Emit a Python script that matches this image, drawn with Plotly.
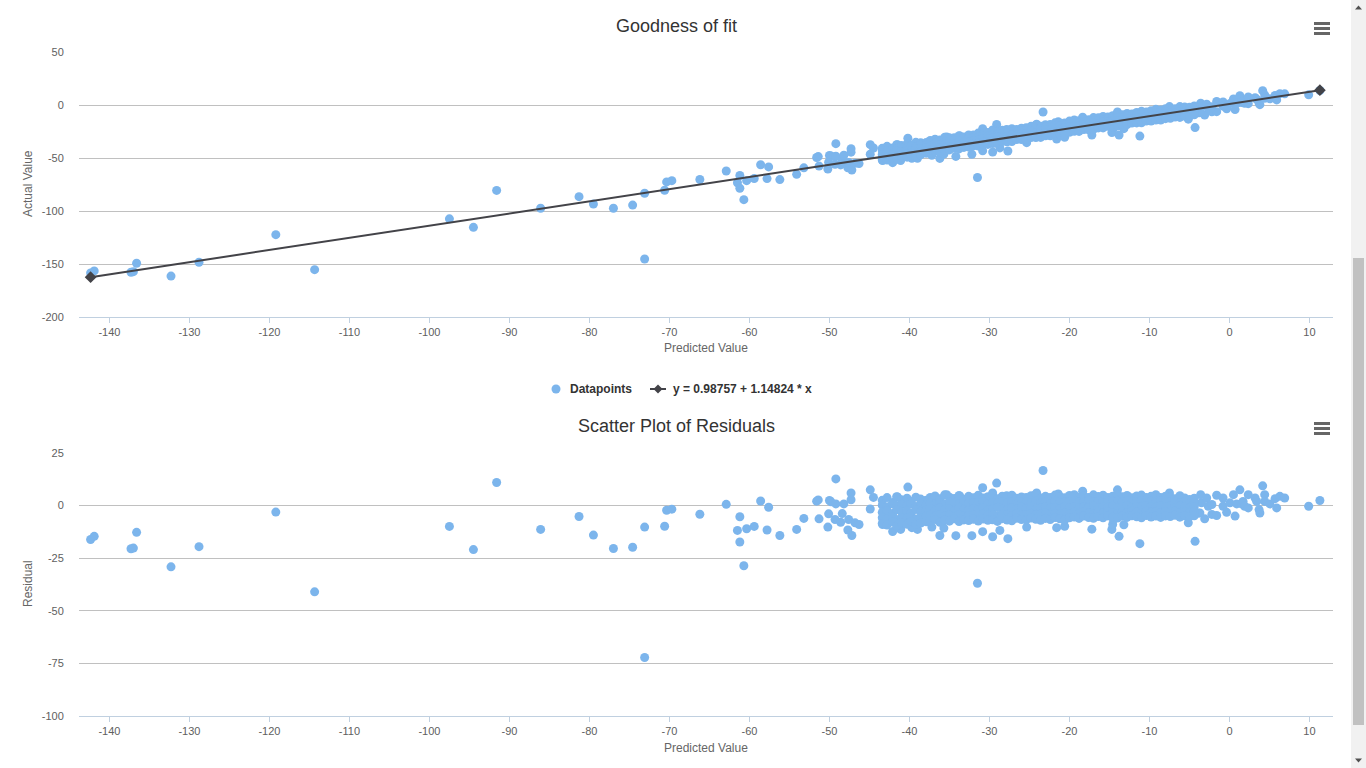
import plotly.graph_objects as go

# scattered points: predicted value and residual (actual - predicted)
pred_sparse = [
    -142.35, -141.9, -137.3, -137.0, -136.6, -132.3, -128.8, -119.2, -114.35,
    -97.5, -94.5, -91.6, -86.1, -81.3, -79.5, -77.0, -74.6, -73.1, -73.1, -70.6, -70.35, -69.7, -66.2, -62.9,
    -61.2, -61.5, -61.2, -60.7, -60.35, -59.4, -58.6, -57.6, -57.8, -56.2, -54.1, -53.2, -51.4, -51.6, -51.3,
    -50.2, -50.0, -49.8, -50.1, -49.2, -49.2, -49.3, -48.6, -48.4, -48.2, -47.3, -47.3, -47.7, -47.2, -47.6,
    -46.8, -46.3, -44.9, -44.5, -44.9, -43.35, -42.1, -41.1, -40.2, -41.5, -39.7, -39.0,
    -23.3, -30.85, -29.1, -29.6, -37.2, -36.2, -35.7, -34.2, -32.2, -30.85, -29.6, -28.7, -27.7, -25.35,
    -31.5, -21.6, -20.6, -35.35, -33.7, -27.85, -24.1, -21.4,
    -18.35, -14.0, -7.5, -17.2, -14.7, -14.6, -14.5, -13.8, -13.2, -11.2, -5.15, -4.3, -3.1, -3.9, -3.5, -3.6,
    -2.85, -2.65, -3.7, -2.2, -1.6, -2.2, -1.6, -0.8, -0.8, -0.35, 0.06, 0.5, 0.7, 1.3, 0.9, 1.5, 1.7, 1.9,
    2.35, 2.35, 3.2, 3.4, 3.7, 3.8, 4.15, 4.4, 4.4, 5.05, 5.7, 5.9, 6.3, 6.9, 9.9, 11.3,
]
resid_sparse = [
    -16.1, -14.6, -20.5, -20.2, -12.7, -29.1, -19.5, -3.1, -41.0,
    -9.9, -20.9, 11.0, -11.3, -5.2, -14.0, -20.4, -19.8, -10.2, -72.2, -9.8, -2.2, -1.7, -4.1, 0.6,
    -5.3, -11.8, -17.3, -28.6, -11.0, -9.9, 2.2, -0.8, -11.6, -14.2, -11.3, -6.1, 2.7, 2.1, -6.3,
    -10.2, 2.4, 1.8, -3.9, 12.7, 0.8, -6.6, -7.9, -3.8, 0.8, 6.0, 2.8, -11.6, -14.2, -6.6,
    -8.2, -9.0, 7.5, 3.9, -1.6, -9.0, -12.3, -11.3, 8.8, 4.1, -10.5, -11.3,
    16.7, 8.5, 10.7, 6.0, -10.2, -14.2, -10.7, -14.3, -14.3, -12.4, -14.8, -11.8, -15.7, -10.2,
    -36.9, -10.5, -9.8, 5.2, 4.4, 4.7, 6.0, 5.5,
    6.8, 7.5, 6.0, -11.2, -11.3, -9.0, -6.6, -14.6, -9.1, -18.1, -8.2, -17.0, -6.3, -3.5, 1.3, 5.2,
    3.6, -0.3, -3.5, -4.2, -4.7, 0.5, 4.9, 3.6, -0.3, -3.2, 1.3, 5.2, -5.0, 7.5, 0.8, 0.8, 2.0, -0.3,
    -1.1, 5.2, 3.6, 2.0, -1.9, -3.5, 9.4, 5.2, 2.0, 0.8, 3.3, -1.1, 4.4, 3.6, -0.3, 2.4,
]

# dense band: predicted value columns and residual rows read across the band
band_x = [
    -43.4, -42.8, -42.1, -41.6, -41.0, -40.3, -39.8, -39.2, -38.6, -37.9,
    -37.4, -36.8, -36.2, -35.6, -35.0, -34.4, -33.8, -33.2, -32.6, -32.0,
    -31.4, -30.8, -30.2, -29.6, -29.0, -28.4, -27.8, -27.2, -26.6, -26.0,
    -25.4, -24.8, -24.2, -23.6, -23.0, -22.4, -21.8, -21.2, -20.6, -20.0,
    -19.4, -18.8, -18.2, -17.6, -17.0, -16.4, -15.8, -15.2, -14.6, -14.0,
    -13.4, -12.8, -12.2, -11.6, -11.0, -10.4, -9.8, -9.2, -8.6, -8.0,
    -7.4, -6.8, -6.2, -5.6, -5.0, -4.4,
]
band_upper = [
    2.5, 3.8, 1.5, 4.2, 2.8, 3.5, 1.9, 4.0, 3.1, 2.6,
    3.9, 4.6, 3.2, 5.1, 4.0, 3.4, 4.8, 3.0, 4.4, 3.7,
    4.9, 3.6, 4.2, 5.0, 3.3, 4.5, 3.8, 4.9, 3.5, 4.1,
    3.9, 4.7, 5.3, 3.6, 4.4, 3.9, 5.0, 4.2, 3.7, 4.8,
    5.2, 4.0, 4.6, 3.8, 5.1, 4.3, 4.9, 3.9, 4.5, 5.3,
    4.2, 4.8, 3.7, 4.6, 5.0, 3.9, 4.4, 5.2, 3.8, 4.5,
    4.0, 3.2, 4.7, 3.6, 2.9, 3.5,
]
band_high = [
    0.2, -0.5, 0.8, -0.2, 0.5, 0.0, 0.9, -0.4, 0.6, 0.3,
    1.2, 0.6, 1.5, 0.9, 1.8, 1.1, 0.7, 1.6, 1.0, 1.4,
    1.3, 1.9, 0.8, 1.5, 1.2, 2.0, 1.1, 1.7, 0.9, 1.6,
    1.8, 1.2, 2.1, 1.4, 1.9, 1.0, 2.2, 1.5, 1.7, 2.0,
    2.3, 1.6, 2.0, 2.5, 1.8, 2.2, 1.5, 2.4, 1.9, 2.1,
    1.7, 2.3, 1.6, 2.0, 2.4, 1.8, 2.1, 1.5, 2.2, 1.9,
    1.6, 2.0, 1.3, 1.8, 0.9, 1.4,
]
band_mid = [
    -3.2, -2.5, -3.8, -2.0, -3.0, -2.6, -3.5, -1.8, -2.9, -2.2,
    -1.5, -2.4, -1.2, -2.0, -1.7, -2.6, -1.1, -1.9, -2.3, -1.4,
    -1.8, -1.0, -2.2, -1.5, -0.9, -1.7, -2.0, -1.2, -1.6, -0.8,
    -1.4, -0.7, -1.9, -1.1, -0.5, -1.3, -0.9, -1.6, -0.6, -1.0,
    -0.4, -1.2, -0.6, -0.9, -0.2, -1.0, -0.5, -0.8, -0.3, -1.1,
    -0.6, -0.1, -0.9, -0.4, -0.7, 0.0, -0.5, -0.8, -0.2, -0.6,
    -0.3, -0.9, -0.1, -0.6, -1.2, -0.4,
]
band_low = [
    -5.8, -6.2, -5.4, -6.6, -5.9, -6.0, -5.2, -6.4, -5.6, -5.0,
    -4.6, -5.1, -4.3, -4.9, -4.5, -5.3, -4.2, -4.8, -4.7, -4.4,
    -4.8, -4.1, -4.6, -4.3, -4.9, -4.0, -4.5, -4.7, -3.9, -4.4,
    -4.2, -3.7, -4.5, -4.0, -3.6, -4.3, -3.8, -4.1, -3.5, -3.9,
    -3.2, -3.8, -2.9, -3.5, -3.9, -3.0, -3.6, -2.8, -3.3, -3.7,
    -3.0, -3.4, -2.7, -3.1, -3.6, -2.6, -3.2, -2.9, -3.5, -2.8,
    -3.1, -2.7, -3.4, -2.9, -3.3, -2.6,
]
band_lower = [
    -8.5, -9.2, -7.8, -9.6, -8.1, -8.9, -7.5, -9.0, -8.3, -7.7,
    -7.2, -6.6, -7.9, -6.9, -7.4, -6.3, -7.6, -6.8, -7.1, -6.5,
    -7.3, -6.4, -7.0, -6.7, -7.5, -6.2, -6.9, -7.2, -6.0, -6.6,
    -6.8, -5.9, -6.5, -7.0, -6.1, -6.6, -5.7, -6.3, -6.9, -5.8,
    -5.4, -6.1, -5.0, -5.7, -6.0, -5.2, -5.8, -4.9, -5.5, -5.9,
    -5.1, -5.6, -4.8, -5.3, -5.8, -4.7, -5.4, -5.0, -5.6, -4.9,
    -5.2, -4.6, -5.5, -4.9, -5.3, -4.8,
]

# regression line end points: y = 0.98757 + 1.14824 * x
fit_x = [-142.35, 11.3]
fit_y = [-162.46, 13.96]
fit_label = "y = 0.98757 + 1.14824 * x"

# axis ticks (labels use a plain hyphen like the original)
x_ticks = [-140, -130, -120, -110, -100, -90, -80, -70, -60, -50, -40, -30, -20, -10, 0, 10]
y_ticks_fit = [50, 0, -50, -100, -150, -200]
y_ticks_resid = [25, 0, -25, -50, -75, -100]

predicted = pred_sparse + band_x * 5
residual = resid_sparse + band_upper + band_high + band_mid + band_low + band_lower
actual = [p + r for p, r in zip(predicted, residual)]

W, H = 1366, 768
FONT = "Liberation Sans, Arial, Helvetica, sans-serif"
POINT = "#7cb5ec"
LINE = "#434348"


def px(x):
    return x / W


def py(y):
    return 1 - y / H


def labels(vals):
    return [str(v) for v in vals]


fig = go.Figure()
fig.add_trace(go.Scatter(x=predicted, y=actual, mode="markers", name="Datapoints",
                         marker=dict(color=POINT, size=9, line_width=0),
                         xaxis="x", yaxis="y"))
fig.add_trace(go.Scatter(x=fit_x, y=fit_y, mode="lines+markers", name=fit_label,
                         line=dict(color=LINE, width=2),
                         marker=dict(symbol="diamond", size=9, color=LINE),
                         xaxis="x", yaxis="y"))
fig.add_trace(go.Scatter(x=predicted, y=residual, mode="markers", name="Residuals",
                         marker=dict(color=POINT, size=9, line_width=0),
                         xaxis="x2", yaxis="y2"))

xcommon = dict(range=[-143.8, 12.94], tickvals=x_ticks, ticktext=labels(x_ticks),
               showgrid=False, zeroline=False,
               showline=True, linecolor="#C0D0E0", linewidth=1, automargin=False,
               ticks="outside", ticklen=5, tickcolor="#C0D0E0",
               tickfont=dict(family=FONT, size=11, color="#606060"))
ycommon = dict(showgrid=True, gridcolor="#C0C0C0", gridwidth=1, zeroline=False, showline=False,
               automargin=False, ticks="outside", ticklen=12, tickcolor="rgba(0,0,0,0)",
               tickfont=dict(family=FONT, size=11, color="#606060"))

plot_x = [px(79), px(1333)]
fig.update_layout(
    width=W, height=H, autosize=False,
    margin=dict(l=0, r=0, t=0, b=0, pad=0, autoexpand=False),
    paper_bgcolor="white", plot_bgcolor="white",
    showlegend=False,
    hovermode="closest",
    xaxis=dict(domain=plot_x, anchor="y", **xcommon),
    yaxis=dict(domain=[py(317), py(52)], range=[-200, 50], anchor="x",
               tickvals=y_ticks_fit, ticktext=labels(y_ticks_fit), **ycommon),
    xaxis2=dict(domain=plot_x, anchor="y2", **xcommon),
    yaxis2=dict(domain=[py(716), py(453)], range=[-100, 25], anchor="x2",
                tickvals=y_ticks_resid, ticktext=labels(y_ticks_resid), **ycommon),
)

notes = [
    ("Goodness of fit", 676, 26, 18, "#333333", 0, "center"),
    ("Scatter Plot of Residuals", 676, 426, 18, "#333333", 0, "center"),
    ("Predicted Value", 706, 348, 12, "#666666", 0, "center"),
    ("Predicted Value", 706, 748, 12, "#666666", 0, "center"),
    ("Actual Value", 28, 184, 12, "#666666", -90, "center"),
    ("Residual", 28, 584, 12, "#666666", -90, "center"),
    ("<b>Datapoints</b>", 568, 389, 12, "#333333", 0, "left"),
    ("<b>" + fit_label + "</b>", 671, 389, 12, "#333333", 0, "left"),
]
for text, x, y, size, color, angle, anchor in notes:
    fig.add_annotation(text=text, x=px(x), y=py(y), xref="paper", yref="paper",
                       xanchor=anchor, yanchor="middle", showarrow=False, textangle=angle,
                       font=dict(family=FONT, size=size, color=color))

shapes = []
# legend symbols
shapes.append(dict(type="circle", x0=px(551.5), x1=px(560.5), y0=py(393.5), y1=py(384.5),
                   fillcolor=POINT, line_width=0))
shapes.append(dict(type="line", x0=px(650), x1=px(666), y0=py(389), y1=py(389),
                   line=dict(color=LINE, width=2)))
shapes.append(dict(type="path",
                   path="M {} {} L {} {} L {} {} L {} {} Z".format(
                       px(658), py(384.5), px(662.5), py(389), px(658), py(393.5), px(653.5), py(389)),
                   fillcolor=LINE, line_width=0))
# context menu buttons
for top in (23.5, 423.5):
    for k in range(3):
        yy = top + 5 * k
        shapes.append(dict(type="line", x0=px(1314), x1=px(1330), y0=py(yy), y1=py(yy),
                           line=dict(color="#666666", width=3)))
# page scrollbar
shapes.append(dict(type="rect", x0=px(1351), x1=px(1366), y0=py(768), y1=py(0),
                   fillcolor="#f1f1f1", line_width=0))
shapes.append(dict(type="rect", x0=px(1353), x1=px(1364), y0=py(725), y1=py(258),
                   fillcolor="#c1c1c1", line_width=0))
shapes.append(dict(type="path",
                   path="M {} {} L {} {} L {} {} Z".format(px(1355), py(9.5), px(1362), py(9.5),
                                                           px(1358.5), py(5.5)),
                   fillcolor="#505050", line_width=0))
shapes.append(dict(type="path",
                   path="M {} {} L {} {} L {} {} Z".format(px(1355), py(758.5), px(1362), py(758.5),
                                                           px(1358.5), py(762.5)),
                   fillcolor="#505050", line_width=0))
for s in shapes:
    s.update(xref="paper", yref="paper", layer="above")
fig.update_layout(shapes=shapes)

fig.write_html(
    "out.html", config={"displayModeBar": False},
    post_script="document.body.style.margin='0';"
                "var d=document.getElementById('{plot_id}');"
                "d.style.position='fixed';d.style.left='0px';d.style.top='0px';")
